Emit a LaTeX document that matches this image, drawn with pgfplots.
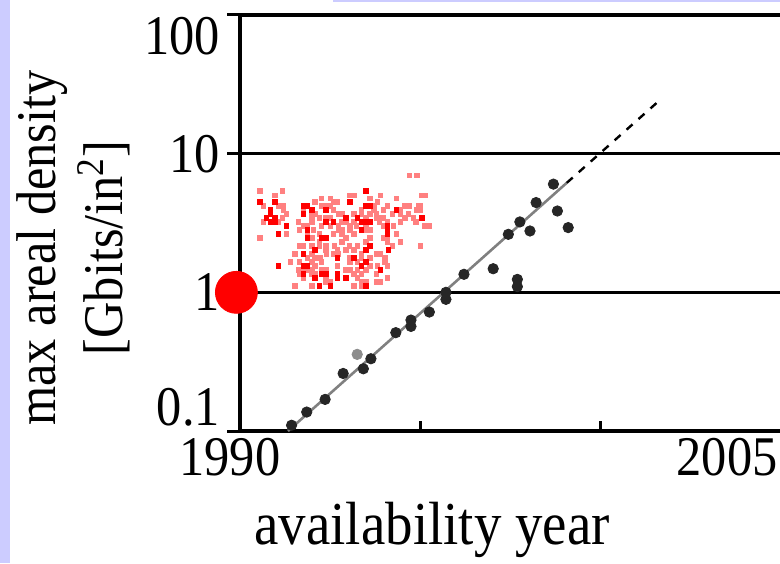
\documentclass[border=0pt]{standalone}
\usepackage{fontspec}
\setmainfont{Liberation Serif}[FakeStretch=0.9]
\usepackage{pgfplots}
\usepackage{pgfplotstable}
\pgfplotsset{compat=1.18}
\definecolor{lav}{RGB}{204,204,255}
\newcommand\bigf{\fontsize{28pt}{33.5pt}\selectfont}
\newcommand\labf{\fontsize{30.5pt}{34pt}\selectfont}

% strong red dots of the research cloud
\pgfplotstableread{
x y
1990.55 4.49
1990.97 4.49
1993.05 4.49
1993.49 5.39
1991.76 4.20
1991.87 4.20
1993.49 4.20
1993.60 4.20
1990.85 3.93
1991.99 3.93
1992.38 3.93
1994.34 3.93
1990.85 3.68
1991.76 3.68
1990.74 3.44
1990.97 3.44
1992.94 3.44
1993.25 3.44
1995.04 3.44
1990.85 3.22
1990.97 3.22
1992.38 3.22
1992.59 3.22
1993.37 3.22
1993.49 3.22
1993.60 3.22
1991.29 3.01
1994.08 3.01
1991.87 2.82
1993.37 2.82
1994.08 2.82
1991.06 2.64
1994.08 2.64
1991.87 2.47
1992.26 2.47
1992.38 2.47
1993.60 2.16
1992.08 2.02
1993.49 2.02
1994.11 2.02
1991.76 1.89
1992.70 1.77
1993.16 1.77
1993.49 1.66
1991.06 1.55
1991.76 1.55
1991.87 1.55
1993.37 1.55
1993.90 1.45
1991.76 1.36
1992.26 1.36
1992.38 1.36
1992.70 1.36
1992.08 1.27
1992.70 1.27
1992.94 1.27
1992.20 1.11
1992.50 1.11
1993.49 1.11
}\reddots

% light red dots
\pgfplotstableread{
x y
1994.70 7.00
1994.90 7.00
1990.55 5.39
1991.18 5.39
1990.97 5.01
1993.05 5.01
1993.16 5.01
1993.90 5.01
1995.04 5.01
1995.13 5.01
1992.26 4.74
1992.50 4.74
1993.60 4.74
1994.34 4.74
1992.08 4.49
1992.59 4.49
1992.70 4.49
1993.81 4.49
1990.65 4.20
1991.06 4.20
1991.20 4.20
1992.26 4.20
1992.38 4.20
1992.50 4.20
1993.71 4.20
1994.08 4.20
1994.57 4.20
1994.70 4.20
1994.94 4.20
1995.01 4.20
1991.20 3.93
1991.76 3.93
1992.59 3.93
1993.37 3.93
1993.71 3.93
1993.97 3.93
1994.45 3.93
1994.90 3.93
1995.01 3.93
1991.29 3.68
1991.99 3.68
1992.08 3.68
1992.73 3.68
1992.82 3.68
1993.16 3.68
1993.37 3.68
1993.60 3.68
1993.79 3.68
1994.23 3.68
1994.44 3.68
1994.67 3.68
1991.18 3.44
1991.99 3.44
1992.20 3.44
1992.38 3.44
1992.50 3.44
1993.49 3.44
1993.79 3.44
1993.90 3.44
1993.97 3.44
1994.57 3.44
1994.81 3.44
1990.65 3.22
1991.06 3.22
1991.62 3.22
1991.99 3.22
1992.82 3.22
1992.94 3.22
1993.16 3.22
1993.86 3.22
1994.08 3.22
1994.45 3.22
1994.88 3.22
1991.76 3.01
1991.87 3.01
1992.26 3.01
1992.50 3.01
1992.73 3.01
1993.05 3.01
1993.23 3.01
1993.49 3.01
1993.97 3.01
1994.25 3.01
1995.13 3.01
1995.25 3.01
1991.65 2.82
1992.03 2.82
1992.73 2.82
1992.82 2.82
1993.05 2.82
1993.49 2.82
1993.60 2.82
1991.29 2.64
1991.87 2.64
1992.20 2.64
1992.59 2.64
1992.82 2.64
1993.16 2.64
1994.34 2.64
1990.55 2.47
1991.99 2.47
1992.94 2.47
1993.60 2.47
1993.97 2.47
1994.08 2.47
1992.20 2.31
1992.82 2.31
1993.49 2.31
1994.08 2.31
1994.45 2.31
1991.65 2.16
1991.76 2.16
1991.99 2.16
1992.20 2.16
1992.38 2.16
1992.61 2.16
1993.03 2.16
1993.25 2.16
1994.23 2.16
1995.01 2.16
1992.38 2.02
1992.70 2.02
1992.94 2.02
1993.16 2.02
1991.52 1.89
1991.99 1.89
1992.40 1.89
1992.59 1.89
1992.73 1.89
1993.37 1.89
1993.79 1.89
1993.90 1.89
1991.87 1.77
1992.08 1.77
1992.22 1.77
1993.05 1.77
1993.37 1.77
1993.60 1.77
1994.02 1.77
1991.39 1.66
1991.65 1.66
1991.99 1.66
1992.26 1.66
1993.05 1.66
1993.25 1.66
1994.02 1.66
1992.08 1.55
1992.70 1.55
1993.60 1.55
1993.81 1.55
1994.08 1.55
1991.62 1.45
1991.76 1.45
1991.87 1.45
1991.99 1.45
1992.26 1.45
1992.38 1.45
1992.94 1.45
1993.05 1.45
1993.25 1.45
1993.49 1.45
1991.65 1.36
1991.99 1.36
1992.08 1.36
1993.16 1.36
1993.37 1.36
1993.79 1.36
1991.76 1.27
1992.38 1.27
1993.25 1.27
1994.08 1.27
1992.38 1.19
1992.50 1.19
1993.37 1.19
1993.49 1.19
1993.79 1.19
1993.90 1.19
1991.52 1.11
1991.99 1.11
1993.16 1.11
1993.37 1.11
}\pinkdots

% products: availability year vs max areal density
\pgfplotstableread{
x y
1991.43 0.110
1991.85 0.137
1992.36 0.169
1992.86 0.260
1993.42 0.281
1993.63 0.332
1994.32 0.512
1994.74 0.631
1994.74 0.568
1995.25 0.721
1995.71 1.000
1995.71 0.890
1996.21 1.349
1997.02 1.480
1997.69 1.240
1997.69 1.100
1997.44 2.620
1997.76 3.220
1998.04 2.770
1998.21 4.440
1998.69 6.030
1998.80 3.860
1999.10 2.930
}\products

\begin{document}
\begin{tikzpicture}
\begin{axis}[
    name=ax,
    scale only axis,
    width=270.5pt, height=208pt,
    xmin=1990, xmax=2005,
    ymode=log, ymin=0.1, ymax=100,
    axis x line*=bottom, axis y line*=left,
    axis line style={line width=2pt, black},
    clip=false,
    tick align=inside,
    major tick length=5pt,
    minor tick length=5pt,
    every tick/.style={black, line width=1.5pt},
    tick label style={font=\bigf},
    xtick={1990,1995,2000,2005},
    xticklabels={\hspace*{-10pt}1990,,,\hspace*{-54pt}2005},
    ytick=\empty,
    minor ytick={0.2,0.4,0.6,0.8,2,4,6,8,20,40,60,80},
    extra y ticks={0.1,1,10,100},
    extra y tick labels={\raisebox{3pt}[0pt][0pt]{0.1},1,10,\raisebox{-20pt}[0pt][0pt]{100}},
    extra y tick style={tick align=outside, major tick length=6.5pt,
        grid=major, major grid style={black, line width=1.6pt}},
    xlabel={availability year},
    xlabel style={font=\labf, at={(axis description cs:0.355,-0.238)}, anchor=center},
    ylabel={max areal density\\{}[Gbits/in\textsuperscript{2}]},
    ylabel style={font=\bigf, align=center, at={(axis description cs:-0.309,0.44)}, anchor=center},
]
\addplot[only marks, mark=square*, mark size=1.1pt, color=red!50, draw=none] table {\pinkdots};
\addplot[only marks, mark=square*, mark size=1.1pt, color=red, draw=none] table {\reddots};
\addplot[black!50, line width=1.3pt] coordinates {(1991.33,0.1) (1999.06,6.16)};
\addplot[black, line width=1.2pt, dash pattern=on 4pt off 4pt] coordinates {(1999.06,6.16) (2001.63,24.2)};
\addplot[only marks, mark=*, mark size=2.6pt, color=black!85] table {\products};
\addplot[only marks, mark=*, mark size=2.6pt, color=black!45] coordinates {(1993.25,0.357)};
\addplot[only marks, mark=*, mark size=10.5pt, color=red] coordinates {(1989.9,1)};
\end{axis}
\pgfresetboundingbox
\path[use as bounding box] ([shift={(-120pt,-66pt)}]ax.south west) rectangle ([shift={(270pt,7.5pt)}]ax.north west);
\fill[lav] ([shift={(-120pt,-66pt)}]ax.south west) rectangle ([shift={(-115pt,7.5pt)}]ax.north west);
\fill[lav] ([shift={(46.5pt,6.5pt)}]ax.north west) rectangle ([shift={(270pt,7.5pt)}]ax.north west);
\end{tikzpicture}
\end{document}
